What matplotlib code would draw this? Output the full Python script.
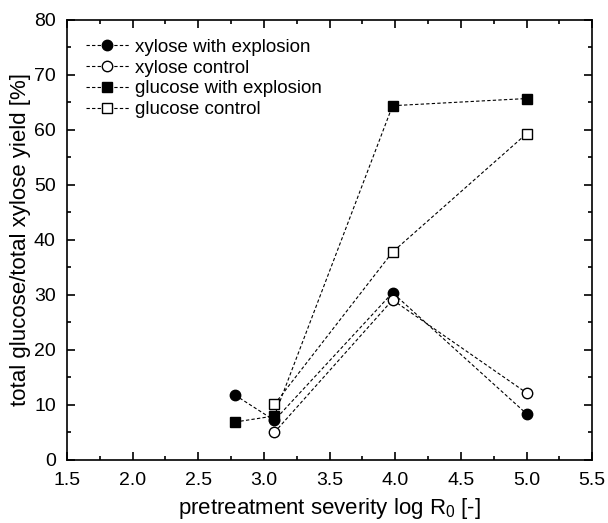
import matplotlib
matplotlib.use("Agg")
import matplotlib.pyplot as plt
from matplotlib.ticker import MultipleLocator

plt.rcParams['font.family'] = ['Liberation Sans', 'DejaVu Sans']
plt.rcParams['mathtext.fontset'] = 'custom'
plt.rcParams['mathtext.rm'] = 'Liberation Sans'
plt.rcParams['mathtext.it'] = 'Liberation Sans:italic'

# data
xyl_exp_x = [2.78, 3.08, 3.98, 5.0]
xyl_exp_y = [11.8, 7.2, 30.4, 8.4]
xyl_ctrl_x = [3.08, 3.98, 5.0]
xyl_ctrl_y = [5.0, 29.1, 12.2]
glu_exp_x = [2.78, 3.08, 3.98, 5.0]
glu_exp_y = [6.9, 8.0, 64.4, 65.7]
glu_ctrl_x = [3.08, 3.98, 5.0]
glu_ctrl_y = [10.1, 37.8, 59.3]

labels = ["xylose with explosion", "xylose control",
          "glucose with explosion", "glucose control"]

fig = plt.figure(figsize=(6.08, 5.23), dpi=100)
ax = fig.add_axes([0.110, 0.1205, 0.864, 0.8415])

common = dict(color='black', linestyle=(0, (3, 2)), linewidth=0.8, markersize=7.5,
              markeredgecolor='black', markeredgewidth=1.0)
ax.plot(xyl_exp_x, xyl_exp_y, marker='o', markerfacecolor='black', label=labels[0], **common)
ax.plot(xyl_ctrl_x, xyl_ctrl_y, marker='o', markerfacecolor='white', label=labels[1], **common)
ax.plot(glu_exp_x, glu_exp_y, marker='s', markerfacecolor='black', label=labels[2], **common)
ax.plot(glu_ctrl_x, glu_ctrl_y, marker='s', markerfacecolor='white', label=labels[3], **common)

ax.set_xlim(1.5, 5.5)
ax.set_ylim(0, 80)
ax.xaxis.set_major_locator(MultipleLocator(0.5))
ax.xaxis.set_minor_locator(MultipleLocator(0.25))
ax.yaxis.set_major_locator(MultipleLocator(10))
ax.yaxis.set_minor_locator(MultipleLocator(5))
ax.xaxis.set_major_formatter(matplotlib.ticker.FormatStrFormatter('%.1f'))
ax.tick_params(which='both', direction='in', top=True, right=True, labelsize=14, width=1.2)
ax.tick_params(which='major', length=6)
ax.tick_params(which='minor', length=3)
ax.tick_params(axis='x', pad=9)
ax.tick_params(axis='y', pad=8)
for s in ax.spines.values():
    s.set_linewidth(1.2)

ax.set_xlabel('pretreatment severity log R$_0$ [-]', fontsize=16, labelpad=5)
ax.set_ylabel('total glucose/total xylose yield [%]', fontsize=16, labelpad=2)

ax.legend(loc='upper left', frameon=False, fontsize=13.5, handlelength=2.3,
          handletextpad=0.35, labelspacing=0.2, borderaxespad=0.7, borderpad=0.3)

fig.savefig('out.png', dpi=100)
